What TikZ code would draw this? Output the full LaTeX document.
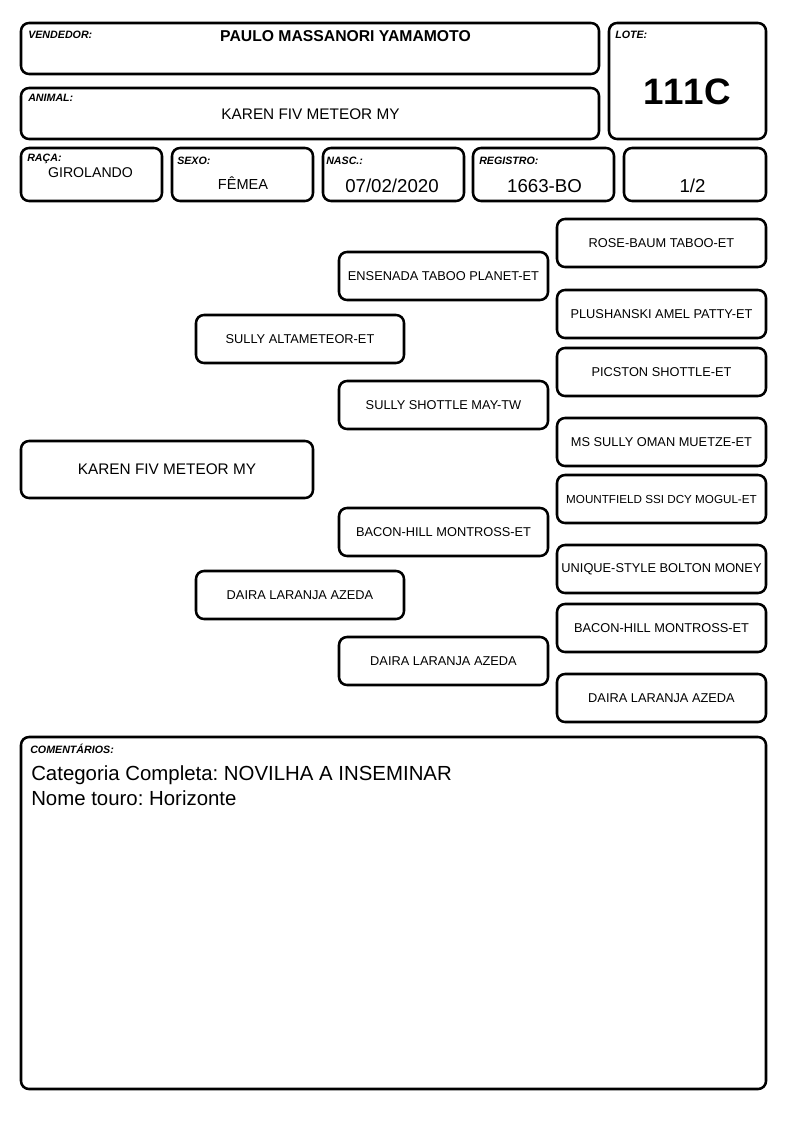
\documentclass[tikz,border=0pt]{standalone}
\usepackage{fontspec}
\setmainfont{Liberation Sans}
\frenchspacing
\tikzset{
  bx/.style 2 args={draw, line width=1.9pt, rounded corners=6pt, minimum width=#1*0.75pt, minimum height=#2*0.75pt, inner sep=0pt, align=center},
  lbl/.style={anchor=base west, inner sep=0pt, font=\fontsize{8}{9}\selectfont\bfseries\itshape},
  val/.style={anchor=base, inner sep=0pt},
  ped/.style={bx={209}{48}, font=\fontsize{9.6}{11}\selectfont},
}
\begin{document}
\begin{tikzpicture}[x=0.75pt,y=-0.75pt]
\useasboundingbox[fill=white] (0,0) rectangle (794,1123);
% header boxes
\node[bx={578}{51}] (vend) at (310,48.5) {};
\node[bx={578}{51}] (anim) at (310,113.5) {};
\node[bx={157}{116}] (lote) at (687.5,81) {};
\node[bx={141}{53}] (raca) at (91.5,174.5) {};
\node[bx={141}{53}] (sexo) at (242.5,174.5) {};
\node[bx={141}{53}] (nasc) at (393.5,174.5) {};
\node[bx={141}{53}] (reg) at (543.5,174.5) {};
\node[bx={142}{53}] (frac) at (695,174.5) {};
% labels
\node[lbl] (lvend) at (28,39) {VENDEDOR:};
\node[lbl] (lanim) at (28,102) {ANIMAL:};
\node[lbl] (llote) at (615,39) {LOTE:};
\node[lbl] (lraca) at (27,162) {RAÇA:};
\node[lbl] (lsexo) at (177,165) {SEXO:};
\node[lbl] (lnasc) at (326,165) {NASC.:};
\node[lbl] (lreg) at (479,165) {REGISTRO:};
% values
\node[val, font=\fontsize{11.8}{13}\selectfont\bfseries] (vvend) at (345.5,42) {PAULO MASSANORI YAMAMOTO};
\node[val, font=\fontsize{11.5}{13}\selectfont] (vanim) at (310.5,120) {KAREN FIV METEOR MY};
\node[val, font=\fontsize{27.6}{30}\selectfont\bfseries\addfontfeatures{Kerning=Off}] (vlote) at (687,105) {111C};
\node[val, font=\fontsize{10.6}{12}\selectfont] (vraca) at (90.5,178) {GIROLANDO};
\node[val, font=\fontsize{10.9}{12}\selectfont] (vsexo) at (243,190) {FÊMEA};
\node[val, font=\fontsize{14}{16}\selectfont] (vnasc) at (392,193) {07/02/2020};
\node[val, font=\fontsize{14}{16}\selectfont] (vreg) at (544.5,193) {1663-BO};
\node[val, font=\fontsize{14}{16}\selectfont] (vfrac) at (692.5,193) {1/2};
% pedigree
\node[bx={292}{57}, font=\fontsize{11.5}{13}\selectfont] (karen) at (167,469.5) {KAREN FIV METEOR MY};
\node[bx={208}{48}, font=\fontsize{9.6}{11}\selectfont] (pai) at (300,339) {SULLY ALTAMETEOR-ET};
\node[bx={208}{48}, font=\fontsize{9.6}{11}\selectfont] (mae) at (300,595) {DAIRA LARANJA AZEDA};
\node[ped] (pp) at (443.5,276) {ENSENADA TABOO PLANET-ET};
\node[ped] (pm) at (443.5,405) {SULLY SHOTTLE MAY-TW};
\node[ped] (mp) at (443.5,532) {BACON-HILL MONTROSS-ET};
\node[ped] (mm) at (443.5,661) {DAIRA LARANJA AZEDA};
\node[ped] (ppp) at (661.5,243) {ROSE-BAUM TABOO-ET};
\node[ped] (ppm) at (661.5,314) {PLUSHANSKI AMEL PATTY-ET};
\node[ped] (pmp) at (661.5,372) {PICSTON SHOTTLE-ET};
\node[ped] (pmm) at (661.5,442) {MS SULLY OMAN MUETZE-ET};
\node[ped, font=\fontsize{8.75}{10}\selectfont] (mpp) at (661.5,499) {MOUNTFIELD SSI DCY MOGUL-ET};
\node[ped] (mpm) at (661.5,569) {UNIQUE-STYLE BOLTON MONEY};
\node[ped] (mmp) at (661.5,628) {BACON-HILL MONTROSS-ET};
\node[ped] (mmm) at (661.5,698) {DAIRA LARANJA AZEDA};
% comments
\node[bx={745}{352}] (com) at (393.5,913) {};
\node[lbl] (lcom) at (30,753) {COMENTÁRIOS:};
\node[anchor=base west, inner sep=0pt, font=\fontsize{15.3}{18}\selectfont] (c1) at (31,780) {Categoria Completa: NOVILHA A INSEMINAR};
\node[anchor=base west, inner sep=0pt, font=\fontsize{15.3}{18}\selectfont] (c2) at (31,805) {Nome touro: Horizonte};
\end{tikzpicture}
\end{document}
